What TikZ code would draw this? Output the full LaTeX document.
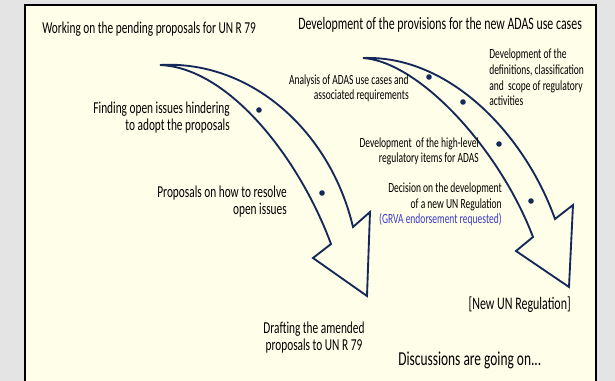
\documentclass[tikz,border=0pt]{standalone}
\usepackage{fontspec}
\setmainfont{Carlito}[FakeStretch=0.68]
\usetikzlibrary{positioning}
\definecolor{navy}{HTML}{14285A}
\definecolor{cream}{HTML}{FFFEE8}
\definecolor{frame}{HTML}{E4E4E4}
\definecolor{request}{HTML}{3A3ACC}

\begin{document}
\begin{tikzpicture}[
        x=0.75pt, y=-0.75pt,
        txt/.style={inner sep=0pt, font=\fontsize{12.5}{13}\selectfont},
        small/.style={inner sep=0pt, font=\fontsize{10.5}{11.8}\selectfont},
        curvedarrow/.style={draw=navy, line width=1.4pt, line join=miter, fill=cream},
        stage/.style={circle, fill=navy, inner sep=0pt, minimum size=4.2pt}
        ]
        \useasboundingbox[fill=frame] (0,0) rectangle (615,381);
        \fill[cream] (25,5) rectangle (595.5,381);
        \draw[line width=1.5pt] (25,381) -- (25,5) -- (595.5,5) -- (595.5,381);

        % left arrow: UN R 79
        \draw[curvedarrow] (160,65) .. controls (250,60) and (330,130) .. (353,227)
            -- (370,212) -- (367,296) -- (313,258) -- (331,244)
            .. controls (300,160) and (230,68) .. cycle;
        % right arrow: new ADAS regulation
        \draw[curvedarrow] (363,58) .. controls (450,55) and (525,135) .. (555,219)
            -- (573,205) -- (569,287) -- (516,251) -- (533,237)
            .. controls (500,150) and (420,62) .. cycle;

        \node[stage] (s1) at (259,110) {};
        \node[stage] (s2) at (322,193) {};
        \node[stage] (a1) at (429,77) {};
        \node[stage] (a2) at (463,102) {};
        \node[stage] (a3) at (499,144) {};
        \node[stage] (a4) at (531,201) {};

        % multi-line nodes: base anchor sits on the last line
        \node[txt, anchor=base west] (r79) at (42,34) {Working on the pending proposals for UN R 79};
        \node[txt, font=\fontsize{13.1}{14}\selectfont, anchor=base west] (adas) at (298,30) {Development of the provisions for the new ADAS use cases};

        \node[txt, anchor=base east, align=right] (open) at (230,131) {Finding open issues hindering\\to adopt the proposals};
        \node[txt, anchor=base east, align=right] (resolve) at (287,215) {Proposals on how to resolve\\open issues};
        \node[txt, anchor=base, align=center] (draft) at (314,351) {Drafting the amended\\proposals to UN R 79};

        \node[small, anchor=base east, align=right] (usecases) at (409,100) {Analysis of ADAS use cases and\\associated requirements};
        \node[small, anchor=base west, align=left] (defs) at (489,106) {Development of the\\definitions, classification\\and\ \ scope of regulatory\\activities};
        \node[small, anchor=base east, align=right] (items) at (479,163) {Development\ \ of the high-level\\regulatory items for ADAS};
        \node[small, anchor=base east, align=right] (decision) at (502,224) {Decision on the development\\of a new UN Regulation\\\textcolor{request}{(GRVA endorsement requested)}};

        \node[inner sep=0pt, font=\fontsize{13.2}{15}\selectfont, anchor=base east] (newreg) at (571,310) {[New UN Regulation]};
        \node[inner sep=0pt, font=\fontsize{14.8}{17}\selectfont, anchor=base west] (talks) at (398,366) {Discussions are going on...};
    \end{tikzpicture}
\end{document}
